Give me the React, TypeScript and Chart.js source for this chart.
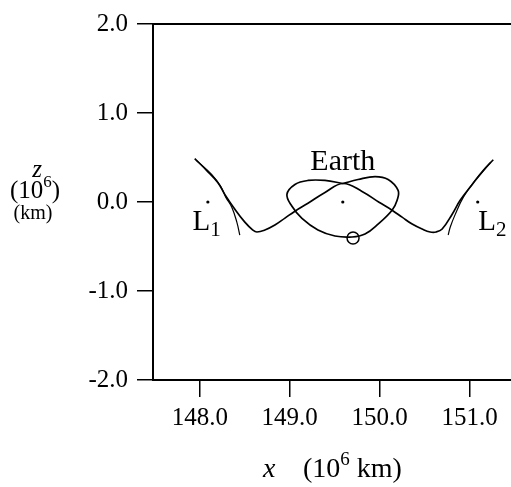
import React, { useEffect, useRef } from 'react';
import { Chart, registerables } from 'chart.js';

Chart.register(...registerables);

const FONT = '"Liberation Serif", "Times New Roman", serif';

const xTicks = [148, 149, 150, 151];
const yTicks = [-2, -1, 0, 1, 2];
const xMin = 147.48;
const xMax = 151.46;
const yMin = -2;
const yMax = 2;

// main transfer trajectory
const mainX = [147.944, 148.078, 148.2, 148.278, 148.39, 148.501, 148.59, 148.635, 148.724, 148.835, 148.947, 149.058, 149.203, 149.392, 149.593, 149.804, 149.993, 150.138, 150.249, 150.361, 150.472, 150.561, 150.628, 150.695, 150.806, 150.895, 151.029, 151.151, 151.263];
const mainY = [0.487, 0.353, 0.219, 0.086, -0.081, -0.226, -0.315, -0.337, -0.315, -0.259, -0.181, -0.103, -0.014, 0.108, 0.208, 0.119, -0.003, -0.092, -0.17, -0.248, -0.304, -0.337, -0.337, -0.304, -0.137, 0.019, 0.197, 0.353, 0.475];

// loop around Earth
const loopX = [149.593, 149.392, 149.203, 149.058, 148.969, 149.025, 149.136, 149.314, 149.503, 149.693, 149.837, 149.982, 150.138, 150.194, 150.205, 150.094, 149.949, 149.76, 149.593];
const loopY = [0.208, 0.242, 0.242, 0.197, 0.086, -0.048, -0.185, -0.315, -0.382, -0.393, -0.36, -0.248, -0.092, 0.019, 0.13, 0.253, 0.286, 0.253, 0.208];

// thin branches near L1 and L2
const branch1X = [147.96, 148.134, 148.234, 148.29, 148.356, 148.412, 148.445];
const branch1Y = [0.47, 0.308, 0.173, 0.052, -0.059, -0.226, -0.371];
const branch2X = [151.229, 151.062, 150.929, 150.84, 150.784, 150.762];
const branch2Y = [0.44, 0.242, 0.052, -0.139, -0.284, -0.371];

// reference points
const pointNames = ['L1', 'Earth', 'L2'];
const pointX = [148.09, 149.59, 151.09];
const pointY = [0, 0, 0];

// marker circle
const markerX = [149.704];
const markerY = [-0.405];

const zip = (xs: number[], ys: number[]) => xs.map((x, i) => ({ x, y: ys[i] }));

type Part = { t: string; size: number; dy?: number; italic?: boolean };

function drawRich(ctx: CanvasRenderingContext2D, parts: Part[], x: number, y: number, align: 'left' | 'center') {
  const fontOf = (p: Part) => `${p.italic ? 'italic ' : ''}${p.size}px ${FONT}`;
  let total = 0;
  parts.forEach((p) => {
    ctx.font = fontOf(p);
    total += ctx.measureText(p.t).width;
  });
  let cx = align === 'center' ? x - total / 2 : x;
  ctx.textAlign = 'left';
  ctx.textBaseline = 'alphabetic';
  parts.forEach((p) => {
    ctx.font = fontOf(p);
    ctx.fillText(p.t, cx, y + (p.dy || 0));
    cx += ctx.measureText(p.t).width;
  });
}

const textPlugin = {
  id: 'texts',
  afterDraw(chart: any) {
    const ctx = chart.ctx as CanvasRenderingContext2D;
    const xs = chart.scales.x;
    const ys = chart.scales.y;
    ctx.save();
    ctx.fillStyle = '#000';
    // Earth label
    drawRich(ctx, [{ t: 'Earth', size: 30 }], xs.getPixelForValue(pointX[1]), ys.getPixelForValue(0.36), 'center');
    // L1
    drawRich(ctx, [{ t: 'L', size: 29 }, { t: '1', size: 21, dy: 6 }], xs.getPixelForValue(147.92), ys.getPixelForValue(-0.315), 'left');
    // L2
    drawRich(ctx, [{ t: 'L', size: 29 }, { t: '2', size: 21, dy: 6 }], xs.getPixelForValue(151.095), ys.getPixelForValue(-0.315), 'left');
    // y title
    drawRich(ctx, [{ t: 'z', size: 25, italic: true }], 37, 177, 'center');
    drawRich(ctx, [{ t: '(10', size: 25 }, { t: '6', size: 17, dy: -11 }, { t: ')', size: 25 }], 35, 198, 'center');
    drawRich(ctx, [{ t: '(km)', size: 20 }], 33, 219, 'center');
    // x title
    drawRich(ctx, [{ t: 'x', size: 28, italic: true }], 263, 477, 'left');
    drawRich(ctx, [{ t: '(10', size: 28 }, { t: '6', size: 19, dy: -12 }, { t: ' km)', size: 28 }], 303, 477, 'left');
    ctx.restore();
  },
};

export default function App() {
  const ref = useRef<HTMLCanvasElement>(null);
  useEffect(() => {
    if (!ref.current) return;
    const lineDs = (xs: number[], ys: number[], w: number) => ({
      type: 'scatter' as const,
      data: zip(xs, ys),
      showLine: true,
      borderColor: '#000',
      borderWidth: w,
      pointRadius: 0,
      pointHoverRadius: 0,
      tension: 0.4,
      fill: false,
    });
    const chart = new Chart(ref.current, {
      type: 'scatter',
      data: {
        datasets: [
          lineDs(mainX, mainY, 1.7),
          lineDs(loopX, loopY, 1.7),
          lineDs(branch1X, branch1Y, 1.2),
          lineDs(branch2X, branch2Y, 1.2),
          {
            type: 'scatter',
            label: pointNames.join(','),
            data: zip(pointX, pointY),
            pointRadius: 1.6,
            backgroundColor: '#000',
            borderColor: '#000',
            borderWidth: 0,
          },
          {
            type: 'scatter',
            data: zip(markerX, markerY),
            pointRadius: 6,
            pointStyle: 'circle',
            backgroundColor: 'rgba(0,0,0,0)',
            borderColor: '#000',
            borderWidth: 1.5,
          },
        ] as any,
      },
      options: {
        responsive: false,
        animation: false,
        devicePixelRatio: 1,
        layout: { autoPadding: false, padding: { top: 20, left: 0, right: 0, bottom: 0 } },
        plugins: { legend: { display: false }, tooltip: { enabled: false }, title: { display: false } },
        scales: {
          x: {
            type: 'linear',
            position: 'bottom',
            min: xMin,
            max: xMax,
            afterBuildTicks: (s: any) => {
              s.ticks = xTicks.map((v) => ({ value: v }));
            },
            afterFit: (s: any) => {
              s.height = 107;
              s.paddingLeft = 0;
              s.paddingRight = 0;
            },
            grid: { drawOnChartArea: false, drawTicks: true, tickLength: 17, color: '#000', lineWidth: 1.5 },
            border: { display: true, color: '#000', width: 2 },
            ticks: {
              color: '#000',
              font: { family: FONT, size: 25 },
              padding: 6,
              maxRotation: 0,
              autoSkip: false,
              callback: (v: any) => Number(v).toFixed(1),
            },
          },
          x2: {
            type: 'linear',
            position: 'top',
            min: xMin,
            max: xMax,
            afterFit: (s: any) => {
              s.height = 0;
              s.paddingLeft = 0;
              s.paddingRight = 0;
            },
            grid: { display: false, drawTicks: false },
            border: { display: true, color: '#000', width: 2 },
            ticks: { display: false },
          },
          y: {
            type: 'linear',
            position: 'left',
            min: yMin,
            max: yMax,
            afterBuildTicks: (s: any) => {
              s.ticks = yTicks.map((v) => ({ value: v }));
            },
            afterFit: (s: any) => {
              s.width = 153;
            },
            grid: { drawOnChartArea: false, drawTicks: true, tickLength: 16, color: '#000', lineWidth: 1.5 },
            border: { display: true, color: '#000', width: 2 },
            ticks: {
              color: '#000',
              font: { family: FONT, size: 25 },
              padding: 9,
              callback: (v: any) => Number(v).toFixed(1),
            },
          },
        },
      } as any,
      plugins: [textPlugin],
    });
    return () => chart.destroy();
  }, []);
  return (
    <div style={{ position: 'fixed', left: 0, top: 0, width: 511, height: 487, background: '#fff' }}>
      <canvas ref={ref} width={511} height={487} style={{ width: 511, height: 487, display: 'block' }} />
    </div>
  );
}
